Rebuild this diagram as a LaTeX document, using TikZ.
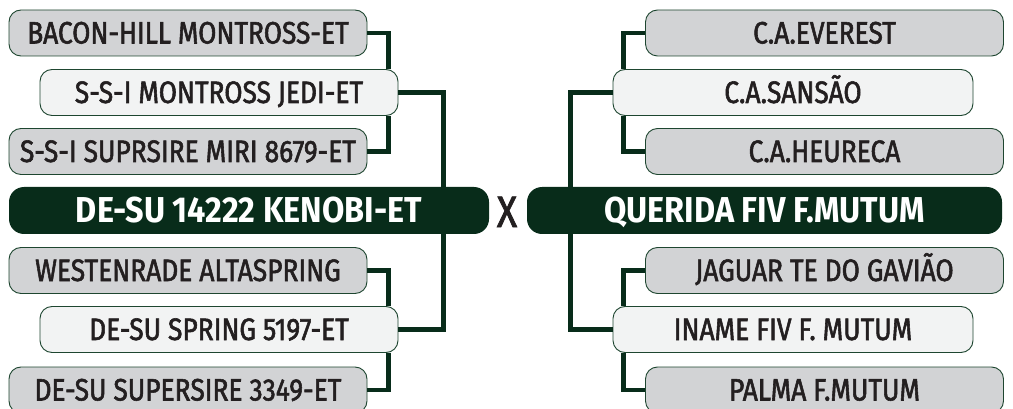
\documentclass[tikz,border=0pt]{standalone}
\usepackage{fontspec}
\setmainfont{Fira Sans}[FakeStretch=0.85]
\newfontfamily\boxfont{Fira Sans}[FakeStretch=0.85, FakeBold=1.8]
\newfontfamily\mainfont{Fira Sans}[FakeStretch=0.9]
\definecolor{dkgreen}{HTML}{082C1A}
\definecolor{boxline}{HTML}{1E4630}
\definecolor{graybox}{HTML}{D2D3D5}
\definecolor{whitebox}{HTML}{F2F3F3}
\definecolor{txt}{HTML}{231F20}
\tikzset{
  x=1pt,y=-1pt,
  anc/.style={rounded corners=12pt, draw=boxline, line width=0.9pt, inner sep=0pt,
    minimum height=46pt, text height=21pt, text depth=0pt, text=txt,
    font=\boxfont\fontsize{31}{31}\selectfont},
  graynode/.style={anc, fill=graybox, minimum width=358pt},
  whitenode/.style={anc, fill=whitebox, minimum width=358pt},
  mainnode/.style={rounded corners=15pt, fill=dkgreen, inner sep=0pt,
    minimum height=47pt, text height=24pt, text depth=0pt, text=white,
    font=\mainfont\fontsize{36}{36}\selectfont\bfseries},
  link/.style={draw=dkgreen, line width=4.8pt}
}
\begin{document}
\begin{tikzpicture}
\useasboundingbox (0,0) rectangle (1013,409);
\clip (0,0) rectangle (1013,409);
% left side
\node[graynode]  (b1) at (188,33)    {BACON-HILL MONTROSS-ET};
\node[whitenode] (b2) at (219,92.5)  {S-S-I MONTROSS JEDI-ET};
\node[graynode]  (b3) at (188,151.5) {S-S-I SUPRSIRE MIRI 8679-ET};
\node[mainnode, minimum width=480pt] (mL) at (249,210.5) {DE-SU 14222 KENOBI-ET};
\node[graynode]  (b4) at (188,270.5) {WESTENRADE ALTASPRING};
\node[whitenode] (b5) at (219,329.5) {DE-SU SPRING 5197-ET};
\node[graynode]  (b6) at (188,390)   {DE-SU SUPERSIRE 3349-ET};
% right side
\node[graynode]  (r1) at (824.5,33)    {C.A.EVEREST};
\node[whitenode, minimum width=360pt] (r2) at (793,92.5)  {C.A.SANSÃO};
\node[graynode]  (r3) at (824.5,151.5) {C.A.HEURECA};
\node[mainnode, minimum width=475pt] (mR) at (764.5,210.5) {QUERIDA FIV F.MUTUM};
\node[graynode]  (r4) at (824.5,270.5) {JAGUAR TE DO GAVIÃO};
\node[whitenode, minimum width=360pt] (r5) at (793,329.5) {INAME FIV F. MUTUM};
\node[graynode]  (r6) at (824.5,390)   {PALMA F.MUTUM};
% X
\node[text=txt, inner sep=0pt, text height=30pt, text depth=0pt,
  font=\boxfont\fontsize{44}{44}\selectfont] (vs) at (507,212) {X};
% connectors
\draw[link] (b1.east) -| ([xshift=-10pt]b2.north east);
\draw[link] ([xshift=-10pt]b2.south east) |- (b3.east);
\draw[link] (b2.east) -| ([xshift=-46pt]mL.north east);
\draw[link] ([xshift=-46pt]mL.south east) |- (b5.east);
\draw[link] (b4.east) -| ([xshift=-10pt]b5.north east);
\draw[link] ([xshift=-10pt]b5.south east) |- (b6.east);
\draw[link] (r1.west) -| ([xshift=11pt]r2.north west);
\draw[link] ([xshift=11pt]r2.south west) |- (r3.west);
\draw[link] (r2.west) -| ([xshift=44pt]mR.north west);
\draw[link] ([xshift=44pt]mR.south west) |- (r5.west);
\draw[link] (r4.west) -| ([xshift=11pt]r5.north west);
\draw[link] ([xshift=11pt]r5.south west) |- (r6.west);
\end{tikzpicture}
\end{document}
